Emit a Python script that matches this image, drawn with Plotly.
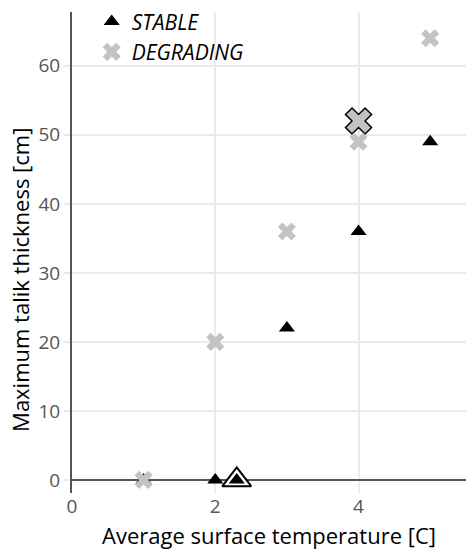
import plotly.graph_objects as go

# Measured maximum talik thickness vs. average surface temperature
stable_temp = [1, 2, 2.3, 3, 4, 5]
stable_talik = [0, 0, 0, 22, 36, 49]

degrading_temp = [1, 2, 3, 4, 5]
degrading_talik = [0, 20, 36, 49, 64]

# Highlighted cases
hl_stable_temp = [2.3]
hl_stable_talik = [0]
hl_degrading_temp = [4]
hl_degrading_talik = [52]

FONT = "Open Sans"
GRID = "#ebebeb"
AXIS = "#555555"

fig = go.Figure()

fig.add_trace(go.Scatter(
    x=hl_stable_temp, y=hl_stable_talik, mode="markers", showlegend=False,
    marker=dict(symbol="triangle-up", size=25, color="white",
                line=dict(color="black", width=2)),
    hoverinfo="skip"))
fig.add_trace(go.Scatter(
    x=hl_degrading_temp, y=hl_degrading_talik, mode="markers", showlegend=False,
    marker=dict(symbol="x", size=23, color="#c3c3c3",
                line=dict(color="black", width=1.5)),
    hoverinfo="skip"))

fig.add_trace(go.Scatter(
    x=stable_temp, y=stable_talik, mode="markers", name="STABLE",
    marker=dict(symbol="triangle-up", size=14, color="black")))
fig.add_trace(go.Scatter(
    x=degrading_temp, y=degrading_talik, mode="markers", name="DEGRADING",
    marker=dict(symbol="x", size=16, color="#c3c3c3")))

fig.update_layout(
    width=466, height=555,
    margin=dict(l=72, r=0, t=12, b=62),
    paper_bgcolor="white", plot_bgcolor="white",
    font=dict(family=FONT, color="black"),
    legend=dict(x=0.05, y=1.022, xanchor="left", yanchor="top",
                bgcolor="rgba(0,0,0,0)",
                font=dict(family=FONT, size=21, color="black", style="italic")),
    annotations=[dict(
        text="Maximum talik thickness [cm]", textangle=-90,
        xref="paper", yref="paper", x=-0.132, y=0.443,
        xanchor="center", yanchor="middle", showarrow=False,
        font=dict(family=FONT, size=22, color="black"))],
)

fig.update_xaxes(
    range=[0, 5.5], tickvals=[0, 2, 4],
    showgrid=True, gridcolor=GRID, gridwidth=2,
    zeroline=False, showline=False,
    ticks="", tickfont=dict(family=FONT, size=19, color=AXIS),
    title=dict(text="Average surface temperature [C]",
               font=dict(family=FONT, size=22, color="black"), standoff=10),
)
fig.update_yaxes(
    range=[-1.9, 67.8], tickvals=[0, 10, 20, 30, 40, 50, 60],
    showgrid=True, gridcolor=GRID, gridwidth=2,
    zeroline=True, zerolinecolor=AXIS, zerolinewidth=2,
    showline=True, linecolor=AXIS, linewidth=2,
    ticks="outside", ticklen=6, tickcolor=GRID, tickwidth=2,
    tickfont=dict(family=FONT, size=19, color=AXIS),
)

fig.write_html("out.html")
